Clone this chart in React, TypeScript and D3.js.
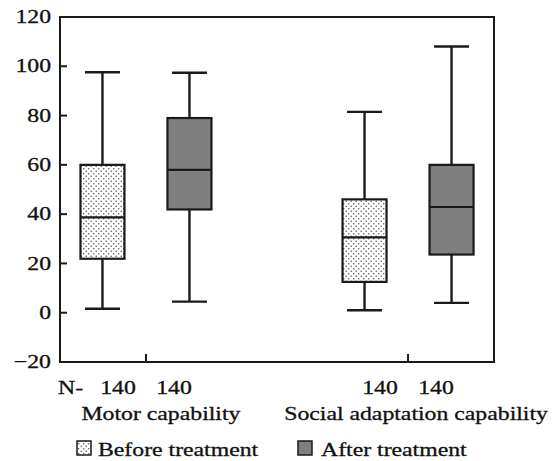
import React from "react";
import * as d3 from "d3";

const categories = ["Motor capability", "Social adaptation capability"];
const groups = ["Before treatment", "After treatment"];
const nLabels = ["140", "140"];
const yTicks = [-20, 0, 20, 40, 60, 80, 100, 120];

const beforeMin = [1.6, 1];
const beforeQ1 = [21.9, 12.5];
const beforeMedian = [38.7, 30.6];
const beforeQ3 = [60, 46];
const beforeMax = [97.6, 81.5];

const afterMin = [4.5, 4];
const afterQ1 = [41.9, 23.6];
const afterMedian = [58, 42.9];
const afterQ3 = [79, 60];
const afterMax = [97.4, 108];

const W = 555;
const H = 461;
const L = 60, R = 494, T = 17, B = 362;
const FONT = "'Liberation Serif', 'Times New Roman', serif";
const FS = 19;
const SX = 1.25;

export default function App() {
  const y = d3.scaleLinear().domain([-20, 120]).range([B, T]);
  const x = d3.scalePoint<string>().domain(categories).range([L, R]).padding(0.328);
  const sub = d3.scaleBand<string>().domain(groups).range([-87, 87]);
  const nPos = d3.scalePoint<string>().domain(groups).range([-28, 28]);
  const boxW = 44;
  const capW = 35;

  const series = [
    { g: groups[0], min: beforeMin, q1: beforeQ1, med: beforeMedian, q3: beforeQ3, max: beforeMax, fill: "url(#dots)" },
    { g: groups[1], min: afterMin, q1: afterQ1, med: afterMedian, q3: afterQ3, max: afterMax, fill: "#7f7f7f" },
  ];

  const stroke = "#1a1a1a";
  const txt = (tx: number, ty: number, s: string, anchor: string, key?: string, baseline?: string) => (
    <text
      key={key}
      transform={`translate(${tx},${ty}) scale(${SX},1)`}
      textAnchor={anchor}
      dominantBaseline={baseline}
      fontFamily={FONT}
      fontSize={FS}
      fill="#111"
      stroke="#111"
      strokeWidth={0.3}
    >
      {s}
    </text>
  );

  return (
    <svg width={W} height={H} style={{ position: "absolute", left: 0, top: 0, background: "#fff" }}>
      <defs>
        <pattern id="dots" width={5} height={5} patternUnits="userSpaceOnUse">
          <rect width={5} height={5} fill="#fff" />
          <circle cx={1.2} cy={1.2} r={0.8} fill="#5a5a5a" />
          <circle cx={3.7} cy={3.7} r={0.8} fill="#5a5a5a" />
        </pattern>
      </defs>
      <rect x={0} y={0} width={W} height={H} fill="#fff" />

      {/* frame */}
      <rect x={L} y={T} width={R - L} height={B - T} fill="none" stroke={stroke} strokeWidth={2} />

      {/* y ticks */}
      {yTicks.map((t) => (
        <g key={t}>
          {t > -20 && t < 120 && (
            <line x1={L} x2={L + 7} y1={y(t)} y2={y(t)} stroke={stroke} strokeWidth={2} />
          )}
          {txt(51, y(t), t < 0 ? "\u2212" + Math.abs(t) : String(t), "end", "l" + t, "central")}
        </g>
      ))}

      {/* x ticks */}
      {categories.map((c) => (
        <line key={c} x1={x(c)!} x2={x(c)!} y1={B} y2={B - 8} stroke={stroke} strokeWidth={2} />
      ))}

      {/* boxes */}
      {series.map((s) =>
        categories.map((c, i) => {
          const cx = x(c)! + sub(s.g)! + sub.bandwidth() / 2;
          return (
            <g key={s.g + c}>
              <line x1={cx} x2={cx} y1={y(s.max[i])} y2={y(s.q3[i])} stroke={stroke} strokeWidth={2.4} />
              <line x1={cx} x2={cx} y1={y(s.q1[i])} y2={y(s.min[i])} stroke={stroke} strokeWidth={2.4} />
              <line x1={cx - capW / 2} x2={cx + capW / 2} y1={y(s.max[i])} y2={y(s.max[i])} stroke={stroke} strokeWidth={2.4} />
              <line x1={cx - capW / 2} x2={cx + capW / 2} y1={y(s.min[i])} y2={y(s.min[i])} stroke={stroke} strokeWidth={2.4} />
              <rect
                x={cx - boxW / 2}
                y={y(s.q3[i])}
                width={boxW}
                height={y(s.q1[i]) - y(s.q3[i])}
                fill={s.fill}
                stroke={stroke}
                strokeWidth={2.2}
              />
              <line x1={cx - boxW / 2} x2={cx + boxW / 2} y1={y(s.med[i])} y2={y(s.med[i])} stroke={stroke} strokeWidth={2.2} />
            </g>
          );
        })
      )}

      {/* N labels */}
      {txt(58, 394, "N-", "start", "N")}
      {categories.map((c) =>
        groups.map((g, j) => txt(x(c)! + nPos(g)!, 394, nLabels[j], "middle", "n" + c + g))
      )}

      {/* category labels */}
      {categories.map((c) => txt(x(c)! + (c === categories[0] ? 15 : 8), 420, c, "middle", "c" + c))}

      {/* legend */}
      <rect x={77} y={441} width={14} height={14} fill="url(#dots)" stroke={stroke} strokeWidth={1.5} />
      {txt(98, 456, groups[0], "start", "lg0")}
      <rect x={298} y={441} width={14} height={14} fill="#7f7f7f" stroke={stroke} strokeWidth={1.5} />
      {txt(321, 456, groups[1], "start", "lg1")}
    </svg>
  );
}
